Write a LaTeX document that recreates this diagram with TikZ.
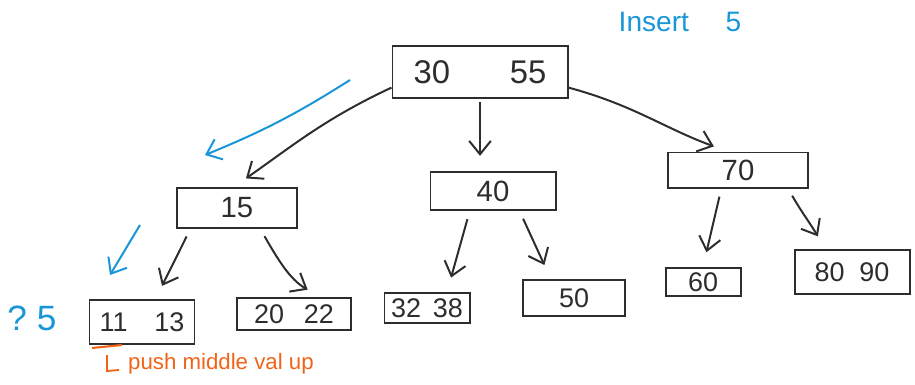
\documentclass[tikz,border=0pt]{standalone}
\usepackage{tikz}
\usepackage{fontspec}
\setmainfont{Liberation Sans}
\usetikzlibrary{arrows.meta}

\definecolor{pen ink}{RGB}{45,45,45}
\definecolor{pen blue}{RGB}{25,150,215}
\definecolor{pen orange}{RGB}{240,100,25}

\tikzset{
  keybox/.style={draw=pen ink, text=pen ink, line width=1.7pt, inner sep=0pt,
    font=\fontsize{25}{29}\selectfont},
  leafbox/.style={keybox, font=\fontsize{23}{27}\selectfont},
  link/.style={pen ink, line width=1.7pt, -{Straight Barb[length=4mm,width=6.5mm]},
    shorten <=0.25cm, shorten >=0.45cm},
  hint/.style={link, pen blue, shorten <=0pt, shorten >=0pt},
}

\begin{document}
\begin{tikzpicture}[x=0.03cm, y=-0.03cm]

    \useasboundingbox (0,0) rectangle (915,384);

    \node[keybox, minimum width=5.25cm, minimum height=1.55cm,
      font=\fontsize{28}{32}\selectfont] (root) at (480,72)
      {30\hspace{1.8cm}55};

    \node[keybox, minimum width=3.6cm,  minimum height=1.2cm]  (n15) at (237,208) {15};
    \node[keybox, minimum width=3.75cm, minimum height=1.15cm] (n40) at (493,191) {40};
    \node[keybox, minimum width=4.2cm,  minimum height=1.05cm] (n70) at (738,170) {70};

    \node[leafbox, minimum width=3.15cm, minimum height=1.3cm]  (leaf 11 13) at (142,322) {11\hspace{0.8cm}13};
    \node[leafbox, minimum width=3.4cm,  minimum height=0.95cm] (leaf 20 22) at (294,314) {20\hspace{0.6cm}22};
    \node[leafbox, minimum width=2.55cm, minimum height=0.9cm]  (leaf 32 38) at (427,308) {32\hspace{0.35cm}38};
    \node[leafbox, minimum width=3.05cm, minimum height=1.1cm]  (leaf 50)    at (574,298) {50};
    \node[leafbox, minimum width=2.25cm, minimum height=0.85cm] (leaf 60)    at (703,282) {60};
    \node[leafbox, minimum width=3.45cm, minimum height=1.3cm]  (leaf 80 90) at (852,272) {80\hspace{0.45cm}90};

    \draw[link, shorten <=0pt] (root.190) to[out=205, in=35] ([xshift=-0.1cm]n15.north);
    \draw[link, shorten <=0.1cm] (root.south) -- (root.south |- n40.north);
    \draw[link, shorten <=0pt] (root.-10) to[out=-15, in=160] ([xshift=-0.3cm]n70.north);

    \draw[link] ([xshift=-1.4cm]n15.south) -- ([xshift=0.4cm]leaf 11 13.north);
    \draw[link] ([xshift=0.7cm]n15.south) to[out=-60, in=150] ([xshift=0.8cm]leaf 20 22.north);
    \draw[link] ([xshift=-0.7cm]n40.south) -- ([xshift=0.6cm]leaf 32 38.north);
    \draw[link] ([xshift=0.8cm]n40.south) -- ([xshift=-0.7cm]leaf 50.north);
    \draw[link] ([xshift=-0.5cm]n70.south) -- (leaf 60.north);
    \draw[link] ([xshift=1.5cm]n70.south) to[out=-60, in=120] ([xshift=-0.8cm]leaf 80 90.north);

    \coordinate (hint top start) at (350,80);
    \coordinate (hint top end)   at (205,155);
    \coordinate (hint leaf start) at (140,225);
    \coordinate (hint leaf end)   at (110,275);

    \draw[hint] (hint top start) to[bend left=5] (hint top end);
    \draw[hint] (hint leaf start) -- (hint leaf end);

    \node[text=pen blue, font=\fontsize{24}{28}\selectfont] (insert) at (680,22) {Insert\hspace{1.1cm}5};
    \node[text=pen blue, font=\fontsize{30}{34}\selectfont] (query) at (32,318) {?\hspace{0.3cm}5};

    \draw[pen orange, line width=1.8pt] (92,348) -- (122,345);
    \draw[pen orange, line width=1.6pt] (107,355) -- (107,371) -- (119,370);
    \node[text=pen orange, font=\fontsize{19}{23}\selectfont, anchor=west] (push note) at (124,364)
      {push middle val up};

\end{tikzpicture}
\end{document}
